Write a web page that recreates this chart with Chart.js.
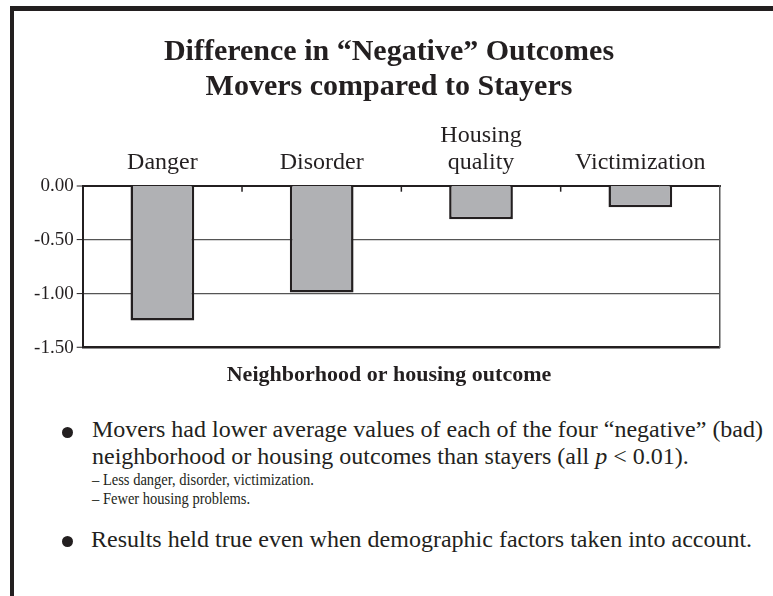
<!DOCTYPE html>
<html>
<head>
<meta charset="utf-8">
<script src="https://cdn.jsdelivr.net/npm/chart.js@4"></script>
<style>
  body { margin: 0; background: #fff; width: 773px; height: 596px; overflow: hidden; position: relative; }
  #frame { position: absolute; left: 10px; top: 6px; width: 780px; height: 600px; border-top: 5px solid #231f20; border-left: 4px solid #231f20; }
  #chartBox { position: absolute; left: 14px; top: 11px; width: 750px; height: 389px; }
  .line { position: absolute; font-family: "Liberation Serif", "Times New Roman", serif; color: #231f20; white-space: nowrap; }
  .big { font-size: 24px; line-height: 24px; }
  .small { font-size: 16.5px; line-height: 16.5px; transform: scaleX(0.88); transform-origin: left center; }
  .dot { position: absolute; width: 11px; height: 11px; border-radius: 50%; background: #231f20; }
</style>
</head>
<body>
<div id="frame"></div>
<div id="chartBox"><canvas id="outcomeChart"></canvas></div>

<div class="dot" style="left:62px; top:427px;"></div>
<div class="line big" style="left:92px; top:417px;">Movers had lower average values of each of the four “negative” (bad)</div>
<div class="line big" style="left:92px; top:444px;">neighborhood or housing outcomes than stayers (all <i>p</i> &lt; 0.01).</div>
<div class="line small" style="left:92px; top:472px;">– Less danger, disorder, victimization.</div>
<div class="line small" style="left:92px; top:491px;">– Fewer housing problems.</div>
<div class="dot" style="left:62px; top:536px;"></div>
<div class="line big" style="left:91px; top:527px;">Results held true even when demographic factors taken into account.</div>

<script>
const categories = [['Danger'], ['Disorder'], ['Housing', 'quality'], ['Victimization']];
const differences = [-1.25, -0.99, -0.31, -0.20];
const yMin = -1.5;
const yMax = 0;
const yStep = 0.5;

const serif = '"Liberation Serif", "Times New Roman", serif';
const ink = '#231f20';

// small tick marks pointing down into the plot between categories
const innerTicks = {
    id: 'innerTicks',
    afterDatasetsDraw(chart) {
        const x = chart.scales.x;
        const top = chart.chartArea.top;
        const ctx = chart.ctx;
        ctx.save();
        ctx.strokeStyle = ink;
        ctx.lineWidth = 1.5;
        for (let i = 1; i < categories.length; i++) {
            const px = (x.getPixelForValue(i - 1) + x.getPixelForValue(i)) / 2;
            ctx.beginPath();
            ctx.moveTo(px, top);
            ctx.lineTo(px, top + 6);
            ctx.stroke();
        }
        ctx.restore();
    }
};

document.addEventListener('DOMContentLoaded', function () {
    const ctx = document.getElementById('outcomeChart').getContext('2d');
    new Chart(ctx, {
        type: 'bar',
        data: {
            labels: categories,
            datasets: [{
                data: differences,
                backgroundColor: '#b0b1b4',
                borderColor: ink,
                borderWidth: 2.5,
                borderSkipped: 'start',
                barPercentage: 0.8,
                categoryPercentage: 0.5
            }]
        },
        options: {
            responsive: true,
            maintainAspectRatio: false,
            animation: false,
            layout: { padding: 0 },
            plugins: {
                legend: { display: false },
                tooltip: { enabled: false },
                title: {
                    display: true,
                    text: ['Difference in “Negative” Outcomes', 'Movers compared to Stayers'],
                    color: ink,
                    font: { family: serif, size: 30, weight: 'bold', lineHeight: 1.15 },
                    padding: { top: 24, bottom: 0 }
                },
                subtitle: {
                    display: true,
                    position: 'bottom',
                    text: 'Neighborhood or housing outcome',
                    color: ink,
                    font: { family: serif, size: 22, weight: 'bold', lineHeight: 1.2 },
                    padding: { top: 15, bottom: 11 }
                }
            },
            scales: {
                x: {
                    position: 'top',
                    grid: { display: false },
                    border: { display: true, color: ink, width: 2 },
                    ticks: {
                        color: ink,
                        font: { family: serif, size: 24, lineHeight: 1.15 },
                        padding: 1,
                        maxRotation: 0
                    },
                    afterFit(scale) { scale.height = 81.7; }
                },
                y: {
                    min: yMin,
                    max: yMax,
                    grid: {
                        color: c => c.tick.value === yMin ? ink : '#555',
                        lineWidth: c => c.tick.value === yMin ? 2.5 : (c.tick.value === yMax ? 0 : 1.2),
                        tickColor: ink,
                        tickWidth: 1,
                        tickLength: 6
                    },
                    border: { color: ink, width: 2 },
                    ticks: {
                        stepSize: yStep,
                        color: ink,
                        padding: 3,
                        font: { family: serif, size: 19 },
                        callback: v => v.toFixed(2)
                    },
                    afterFit(scale) { scale.width = 68.7; }
                },
                yRight: {
                    type: 'linear',
                    position: 'right',
                    grid: { display: false },
                    ticks: { display: false },
                    border: { color: '#555', width: 1.5 },
                    afterFit(scale) { scale.width = 44; }
                }
            }
        },
        plugins: [innerTicks]
    });
});
</script>
</body>
</html>
